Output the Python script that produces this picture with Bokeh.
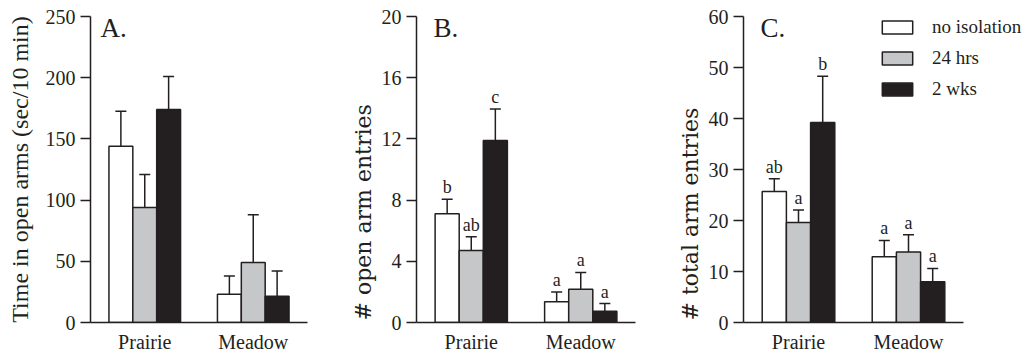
from bokeh.plotting import figure
from bokeh.layouts import row
from bokeh.models import (ColumnDataSource, Range1d, FixedTicker, Label,
                          Legend, LegendItem, Title)
from bokeh.transform import dodge
from bokeh.embed import file_html
from bokeh.resources import INLINE
from bokeh.core.properties import value

# ---------------- data ----------------
groups = ["Prairie", "Meadow"]
series = ["no isolation", "24 hrs", "2 wks"]

# Panel A: time in open arms (sec/10 min)
a_none_mean = [144, 23]
a_none_sem = [28.5, 15]
a_24h_mean = [94, 49]
a_24h_sem = [27, 39]
a_2wk_mean = [174, 21.5]
a_2wk_sem = [27, 20.5]

# Panel B: # open arm entries
b_none_mean = [7.1, 1.35]
b_none_sem = [0.95, 0.65]
b_24h_mean = [4.7, 2.17]
b_24h_sem = [0.9, 1.1]
b_2wk_mean = [11.9, 0.74]
b_2wk_sem = [2.05, 0.5]
b_none_letters = ["b", "a"]
b_24h_letters = ["ab", "a"]
b_2wk_letters = ["c", "a"]

# Panel C: # total arm entries
c_none_mean = [25.7, 12.9]
c_none_sem = [2.5, 3.2]
c_24h_mean = [19.6, 13.8]
c_24h_sem = [2.45, 3.4]
c_2wk_mean = [39.2, 8.0]
c_2wk_sem = [9.1, 2.6]
c_none_letters = ["ab", "a"]
c_24h_letters = ["a", "a"]
c_2wk_letters = ["b", "a"]

a_ticks = [0, 50, 100, 150, 200, 250]
b_ticks = [0, 4, 8, 12, 16, 20]
c_ticks = [0, 10, 20, 30, 40, 50, 60]

# ---------------- style ----------------
FONT = "Liberation Serif"
INK = "#231f20"
FILLS = ["#ffffff", "#c6c7c9", "#231f20"]
OFFS = [-0.22, 0.0, 0.22]
BW = 0.22
NG = len(groups)
GX = [i + 0.5 for i in range(NG)]   # category centres on the numeric scale


def make_panel(frame_w, x_end, left, right, ymax, ticks, ylabel, letter,
               letter_x, means, sems, letters=None, legend=False,
               side_title=False):
    p = figure(frame_width=frame_w, frame_height=306,
               x_range=Range1d(0, x_end), y_range=Range1d(0, ymax),
               output_backend="svg", toolbar_location=None,
               min_border_left=left, min_border_right=right,
               min_border_top=16, min_border_bottom=32)
    p.outline_line_color = None
    p.grid.visible = False
    p.background_fill_color = None
    p.border_fill_color = None

    renderers = []
    for i in range(3):
        top = [m + s for m, s in zip(means[i], sems[i])]
        data = dict(g=GX, m=means[i], t=top)
        if letters is not None:
            data["lab"] = letters[i]
        src = ColumnDataSource(data)
        xd = dodge("g", OFFS[i])
        r = p.vbar(x=xd, top="m", width=BW, source=src, fill_color=FILLS[i],
                   line_color=INK, line_width=1.5)
        renderers.append(r)
        p.segment(x0=xd, y0="m", x1=xd, y1="t", source=src, line_color=INK,
                  line_width=1.5)
        p.scatter(x=xd, y="t", marker="dash", size=11, source=src,
                  line_color=INK, line_width=1.5)
        if letters is not None:
            p.text(x=xd, y="t", text="lab", source=src, text_align="center",
                   text_baseline="bottom", y_offset=-2,
                   text_font=value(FONT), text_font_size="18px", text_color=INK)

    # y axis
    ya = p.yaxis[0]
    ya.ticker = FixedTicker(ticks=ticks)
    if not side_title:
        ya.axis_label = ylabel
        ya.axis_label_text_font = FONT
        ya.axis_label_text_font_style = "normal"
        ya.axis_label_text_font_size = "24px"
        ya.axis_label_text_color = INK
        ya.axis_label_standoff = 10
    ya.major_label_text_font = FONT
    ya.major_label_text_font_size = "20px"
    ya.major_label_text_color = INK
    ya.major_label_standoff = 5
    ya.major_tick_out = 10
    ya.major_tick_in = 0
    ya.minor_tick_out = 0
    ya.minor_tick_in = 0
    ya.axis_line_width = 1.5
    ya.axis_line_color = INK
    ya.major_tick_line_width = 1.5
    ya.major_tick_line_color = INK

    if side_title:
        p.add_layout(Title(text=ylabel, align="left", offset=2, standoff=6,
                           text_font="DejaVu Serif", text_font_size="22px",
                           text_font_style="normal", text_color=INK), "left")

    # x axis (line limited to the category span)
    xa = p.xaxis[0]
    xa.ticker = FixedTicker(ticks=GX)
    xa.major_label_overrides = {gx: g for gx, g in zip(GX, groups)}
    xa.bounds = (0, NG)
    xa.major_tick_out = 0
    xa.major_tick_in = 0
    xa.minor_tick_out = 0
    xa.minor_tick_in = 0
    xa.major_label_standoff = 8
    xa.major_label_text_font = FONT
    xa.major_label_text_font_size = "20px"
    xa.major_label_text_color = INK
    xa.axis_line_width = 1.5
    xa.axis_line_color = INK

    p.add_layout(Label(x=letter_x, y=295, x_units="screen", y_units="screen",
                       text=letter, text_font=FONT, text_font_size="27px",
                       text_baseline="alphabetic", text_color=INK))

    if legend:
        items = [LegendItem(label=s, renderers=[r]) for s, r in zip(series, renderers)]
        lg = Legend(items=items, location=(135, 222), glyph_width=38,
                    glyph_height=16, label_height=16, spacing=9, padding=0,
                    margin=0, label_standoff=16, border_line_alpha=0,
                    background_fill_alpha=0, label_text_font=FONT,
                    label_text_font_size="19px", label_text_color=INK)
        p.add_layout(lg)
    return p


pa = make_panel(217, 2, 90, 28, 250, a_ticks, "Time in open arms (sec/10 min)",
                "A.", 10,
                [a_none_mean, a_24h_mean, a_2wk_mean],
                [a_none_sem, a_24h_sem, a_2wk_sem])
pb = make_panel(219, 2, 81, 33, 20, b_ticks, "# open arm entries", "B.", 17,
                [b_none_mean, b_24h_mean, b_2wk_mean],
                [b_none_sem, b_24h_sem, b_2wk_sem],
                [b_none_letters, b_24h_letters, b_2wk_letters],
                side_title=True)
pc = make_panel(292, 2 * 292 / 220, 75, 0, 60, c_ticks, "# total arm entries",
                "C.", 17,
                [c_none_mean, c_24h_mean, c_2wk_mean],
                [c_none_sem, c_24h_sem, c_2wk_sem],
                [c_none_letters, c_24h_letters, c_2wk_letters], legend=True,
                side_title=True)

layout = row(pa, pb, pc, spacing=0)
open("out.html", "w").write(file_html(layout, INLINE))
